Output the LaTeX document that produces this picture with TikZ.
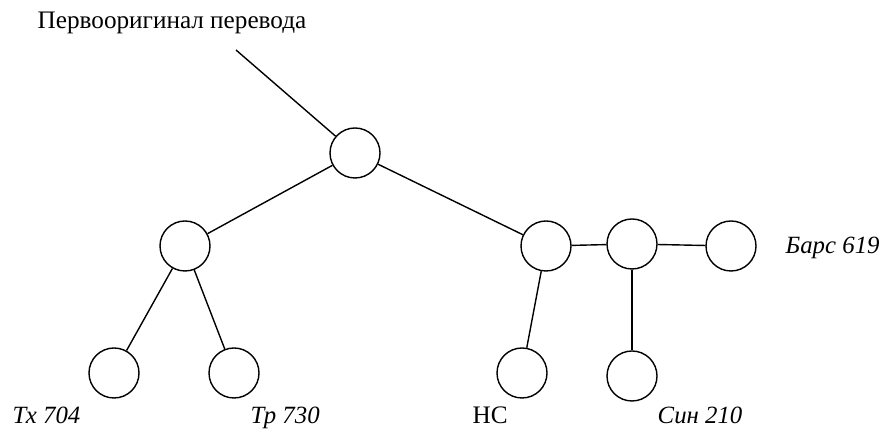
\documentclass[tikz,border=0pt]{standalone}
\usepackage{fontspec}
\setmainfont{Liberation Serif}
\begin{document}
\begin{tikzpicture}[x=0.5pt,y=-0.5pt,line width=0.7pt,
    every node/.style={font=\fontsize{12.6}{15}\selectfont},
    ms/.style={draw,circle,minimum size=25pt,inner sep=0pt},
    lbl/.style={anchor=base west,inner sep=0pt},
    sigla/.style={lbl,font=\fontsize{12.4}{15}\selectfont\itshape}]
      \useasboundingbox (0,0) rectangle (883,431);

      % archetype and its line from the top
      \node[lbl] (title) at (37,29) {Первооригинал перевода};
      \coordinate (top) at (236,50);
      \node[ms] (root) at (355,153) {};

      % left branch
      \node[ms] (L) at (185,246) {};
      \node[ms] (L1) at (114,373) {};
      \node[ms] (L2) at (234,373) {};

      % right branch
      \node[ms] (R1) at (546,246) {};
      \node[ms] (R2) at (632,244) {};
      \node[ms] (R3) at (731,246) {};
      \node[ms] (R11) at (522,373) {};
      \node[ms] (R21) at (632,376) {};

      % sigla
      \node[sigla] (tx) at (12,424) {Тх 704};
      \node[sigla] (tr) at (250,424) {Тр 730};
      \node[lbl] (ns) at (472,424) {НС};
      \node[sigla] (sin) at (657,424) {Син 210};
      \node[sigla] (bars) at (785,254) {Барс 619};

      % connections between nodes
      \draw (top) -- (root);
      \draw (root) -- (L);
      \draw (root) -- (R1);
      \draw (L) -- (L1);
      \draw (L) -- (L2);
      \draw (R1) -- (R2);
      \draw (R2) -- (R3);
      \draw (R1) -- (R11);
      \draw (R2) -- (R21);
    \end{tikzpicture}
\end{document}
